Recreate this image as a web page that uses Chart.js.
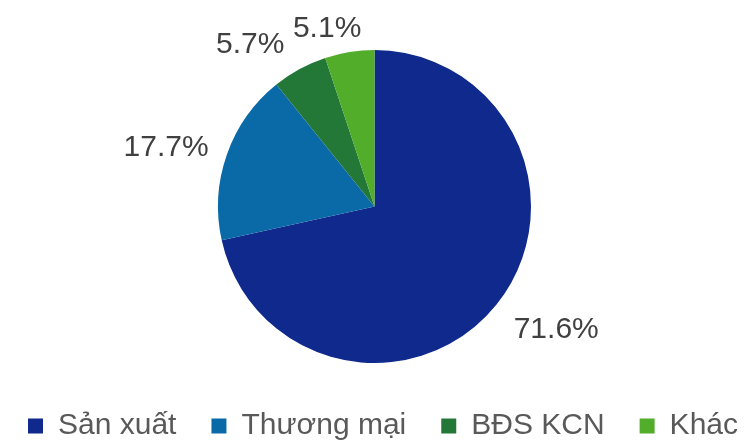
<!DOCTYPE html>
<html>
<head>
<meta charset="utf-8">
<script src="https://cdn.jsdelivr.net/npm/chart.js@4"></script>
<style>
  html, body { margin: 0; padding: 0; background: #fff; }
  #wrap { width: 746px; height: 442px; }
</style>
</head>
<body>
<div id="wrap"><canvas id="pieChart" width="746" height="442"></canvas></div>
<script>
// Dữ liệu biểu đồ
const categories = ['Sản xuất', 'Thương mại', 'BĐS KCN', 'Khác'];
const shares = [71.6, 17.7, 5.7, 5.1];
const sliceColors = ['#10298c', '#0a6aa8', '#247837', '#52ad2a'];

// Vẽ nhãn phần trăm bên ngoài mỗi lát
const outsideLabels = {
    id: 'outsideLabels',
    afterDatasetsDraw(chart, args, opts) {
        const ctx = chart.ctx;
        const meta = chart.getDatasetMeta(0);
        ctx.save();
        ctx.font = '30px "Liberation Sans", Arial, sans-serif';
        ctx.fillStyle = '#404040';
        ctx.textAlign = 'center';
        ctx.textBaseline = 'middle';
        meta.data.forEach(function(arc, i) {
            const mid = (arc.startAngle + arc.endAngle) / 2;
            const dx = Math.cos(mid), dy = Math.sin(mid);
            const text = shares[i].toFixed(1) + '%';
            const w = ctx.measureText(text).width;
            const r = arc.outerRadius + opts.pad;
            const nudge = opts.nudge[i] || [0, 0];
            const x = arc.x + dx * r + dx * w / 2 + nudge[0];
            const y = arc.y + dy * r + dy * 12 + nudge[1];
            ctx.fillText(text, x, y);
        });
        ctx.restore();
    }
};

const baseLabels = Chart.overrides.pie.plugins.legend.labels.generateLabels;

new Chart(document.getElementById('pieChart'), {
    type: 'pie',
    data: {
        labels: categories,
        datasets: [{
            data: shares,
            backgroundColor: sliceColors,
            borderWidth: 0,
            radius: 156.5
        }]
    },
    options: {
        responsive: false,
        animation: false,
        layout: { padding: { top: 12, left: 3, right: -2, bottom: -9 } },
        plugins: {
            tooltip: { enabled: false },
            legend: {
                position: 'bottom',
                align: 'end',
                labels: {
                    boxWidth: 15,
                    boxHeight: 15,
                    padding: 10,
                    color: '#595959',
                    font: { family: '"Liberation Sans", Arial, sans-serif', size: 30 },
                    // thêm khoảng trắng để giãn cách giữa các mục chú thích
                    generateLabels: function(chart) {
                        const items = baseLabels(chart);
                        items.forEach(function(item, i) {
                            if (i < items.length - 1) item.text += '   ';
                        });
                        return items;
                    }
                }
            },
            outsideLabels: {
                pad: 25,
                nudge: [[7, 2], [3, 5], [-21, 8], [-13, 13]]
            }
        }
    },
    plugins: [outsideLabels]
});
</script>
</body>
</html>
